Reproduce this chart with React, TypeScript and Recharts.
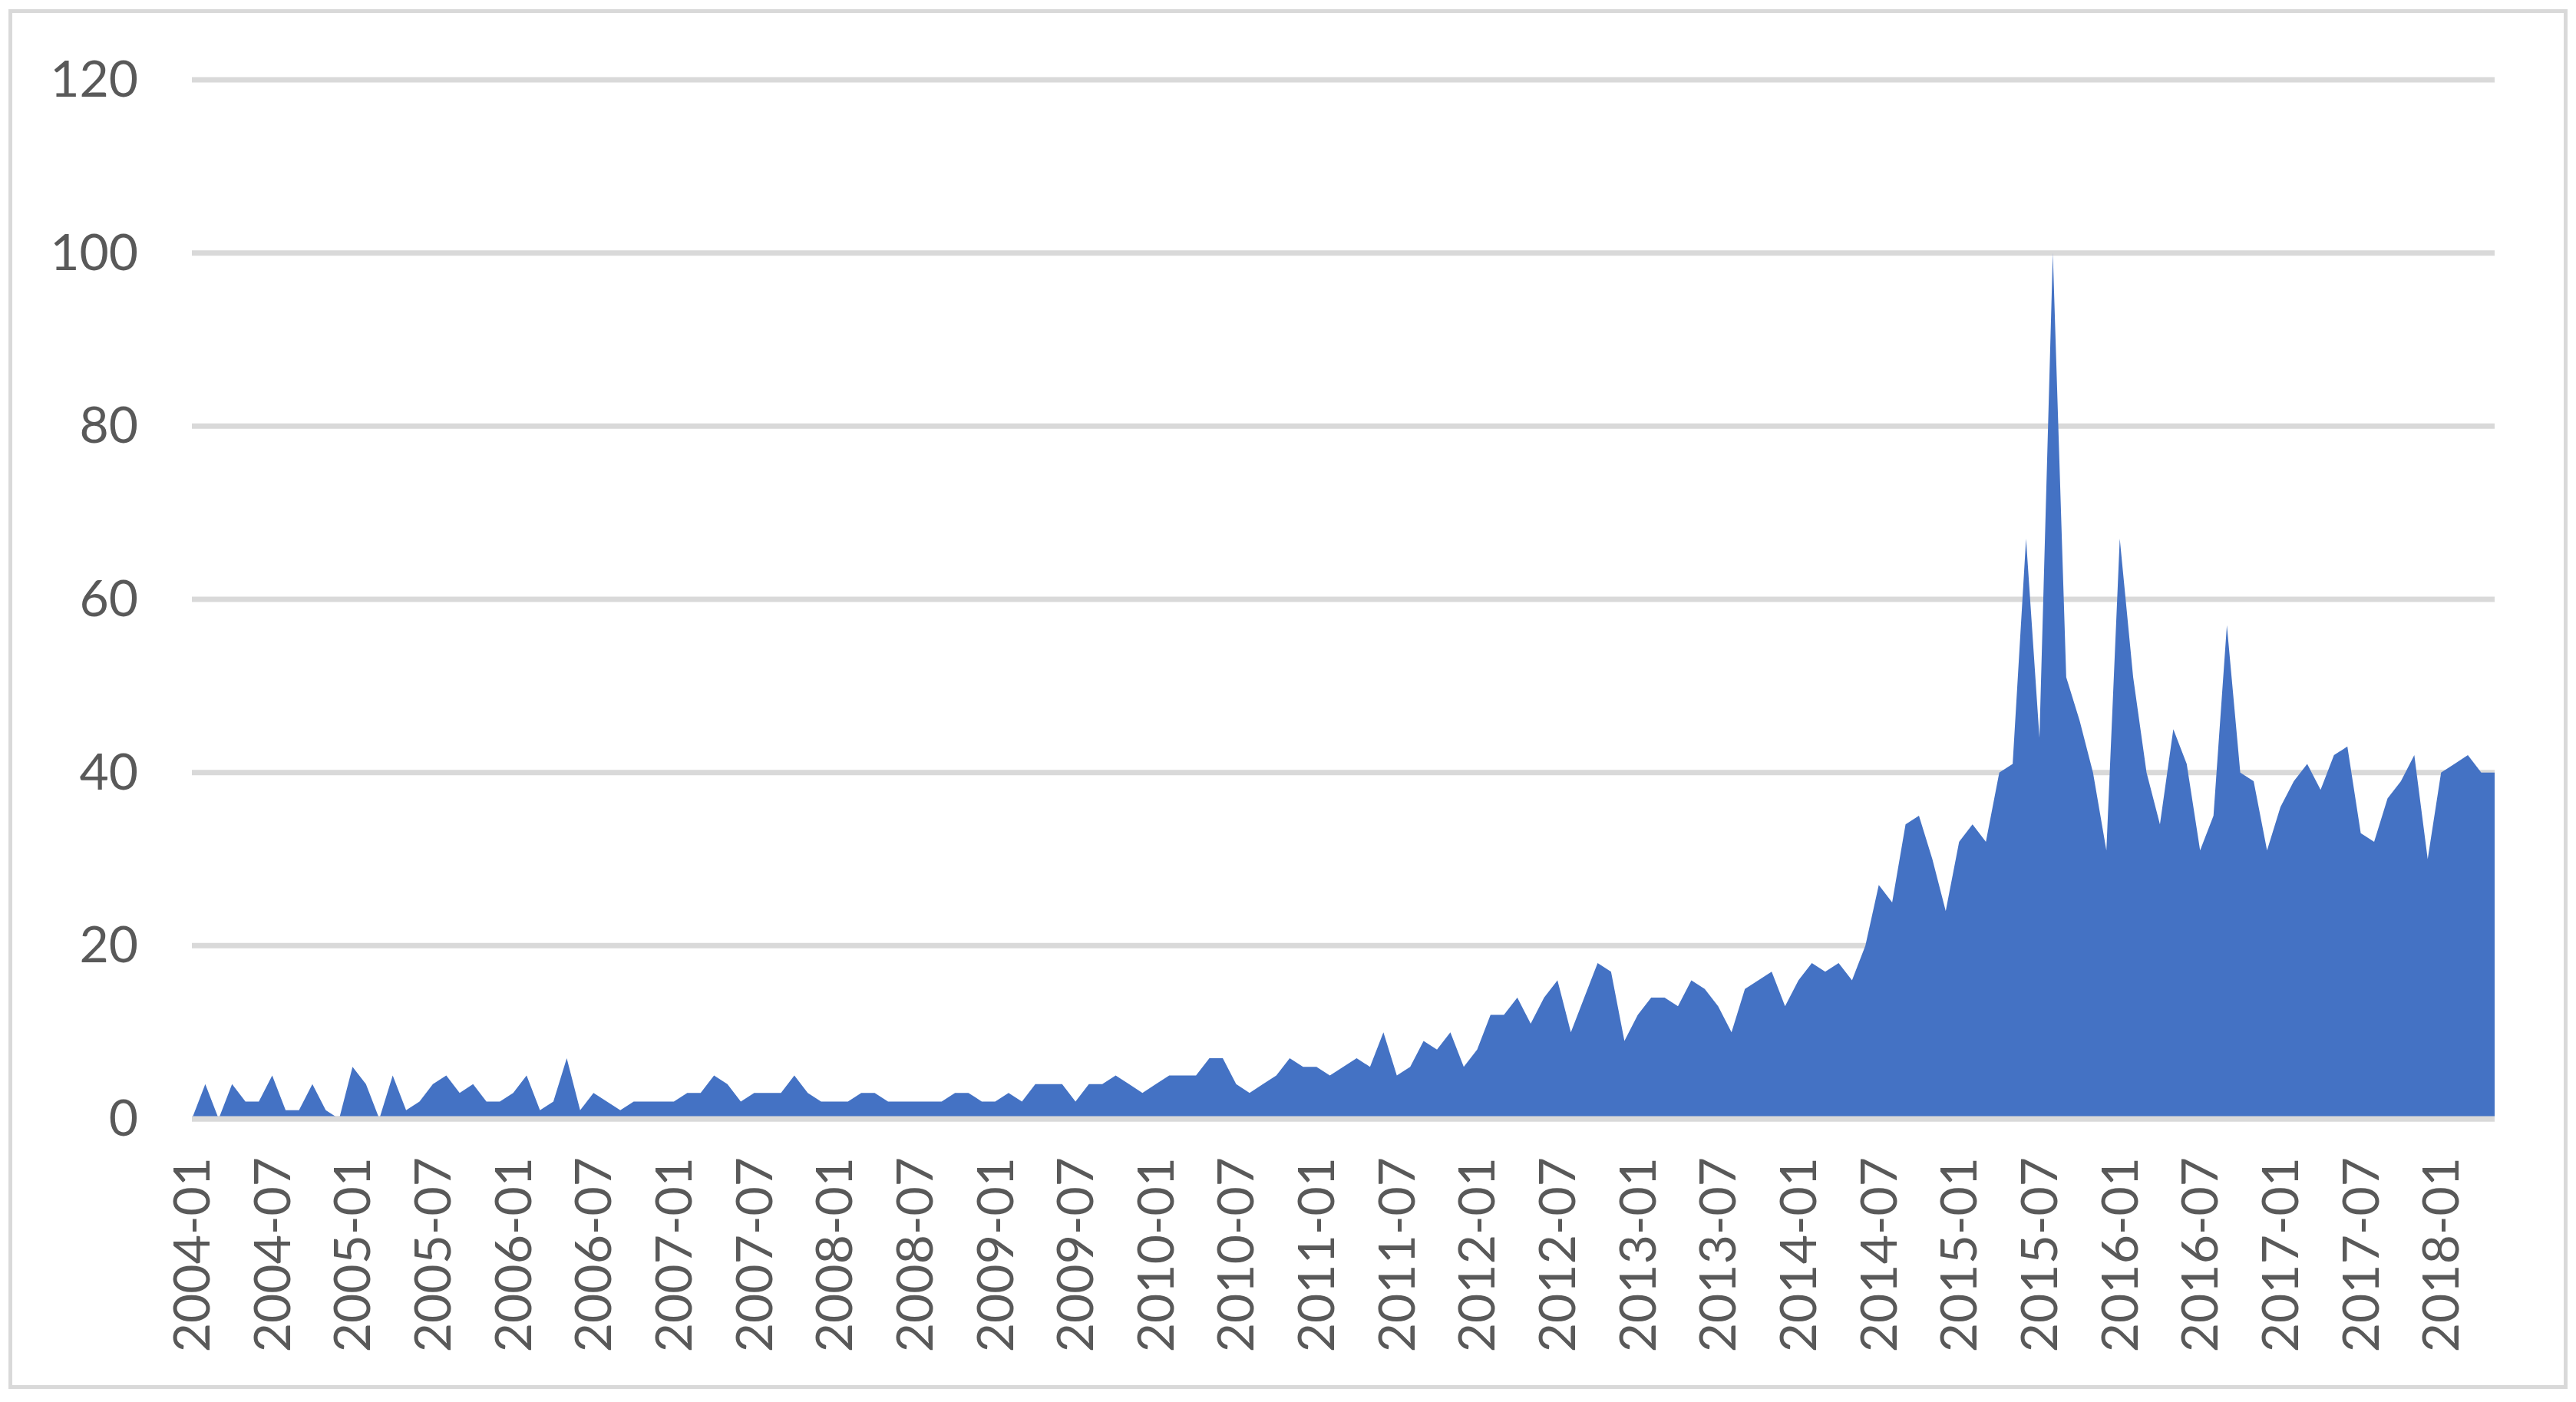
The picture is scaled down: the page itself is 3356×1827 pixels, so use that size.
import React from "react";
import { AreaChart, Area, XAxis, YAxis, CartesianGrid } from "recharts";

// Monthly categories 2004-01 .. 2018-05
const startYear = 2004;
const monthCount = 173;
const months: string[] = [];
for (let i = 0; i < monthCount; i++) {
  const y = startYear + Math.floor(i / 12);
  const m = (i % 12) + 1;
  months.push(`${y}-${m < 10 ? "0" + m : m}`);
}

// Series values, one row per year
const v2004 = [0, 4, 0, 4, 2, 2, 5, 1, 1, 4, 1, 0];
const v2005 = [6, 4, 0, 5, 1, 2, 4, 5, 3, 4, 2, 2];
const v2006 = [3, 5, 1, 2, 7, 1, 3, 2, 1, 2, 2, 2];
const v2007 = [2, 3, 3, 5, 4, 2, 3, 3, 3, 5, 3, 2];
const v2008 = [2, 2, 3, 3, 2, 2, 2, 2, 2, 3, 3, 2];
const v2009 = [2, 3, 2, 4, 4, 4, 2, 4, 4, 5, 4, 3];
const v2010 = [4, 5, 5, 5, 7, 7, 4, 3, 4, 5, 7, 6];
const v2011 = [6, 5, 6, 7, 6, 10, 5, 6, 9, 8, 10, 6];
const v2012 = [8, 12, 12, 14, 11, 14, 16, 10, 14, 18, 17, 9];
const v2013 = [12, 14, 14, 13, 16, 15, 13, 10, 15, 16, 17, 13];
const v2014 = [16, 18, 17, 18, 16, 20, 27, 25, 34, 35, 30, 24];
const v2015 = [32, 34, 32, 40, 41, 67, 44, 100, 51, 46, 40, 31];
const v2016 = [67, 51, 40, 34, 45, 41, 31, 35, 57, 40, 39, 31];
const v2017 = [36, 39, 41, 38, 42, 43, 33, 32, 37, 39, 42, 30];
const v2018 = [40, 41, 42, 40, 40];

const values = [
  ...v2004, ...v2005, ...v2006, ...v2007, ...v2008, ...v2009, ...v2010,
  ...v2011, ...v2012, ...v2013, ...v2014, ...v2015, ...v2016, ...v2017, ...v2018,
];

const yTicks = [0, 20, 40, 60, 80, 100, 120];

const data = months.map((m, i) => ({ month: m, value: values[i] }));

const FONT = "Lato, Carlito, Calibri, 'Open Sans', sans-serif";
const TEXT = "#595959";
const GRID = "#d9d9d9";

const XTick = (props: any) => {
  const { x, y, payload } = props;
  return (
    <text
      transform={`translate(${x + 23},${y + 50}) rotate(-90)`}
      textAnchor="end"
      fill={TEXT}
      fontSize={66}
      fontFamily={FONT}
    >
      {payload.value}
    </text>
  );
};

const YTick = (props: any) => {
  const { x, y, payload } = props;
  return (
    <text
      x={x - 70}
      y={y + 22}
      textAnchor="end"
      fill={TEXT}
      fontSize={66}
      fontFamily={FONT}
    >
      {payload.value}
    </text>
  );
};

export default function App() {
  return (
    <div
      style={{
        position: "absolute",
        left: 0,
        top: 0,
        width: 3356,
        height: 1827,
        background: "#ffffff",
      }}
    >
      <AreaChart
        width={3356}
        height={1827}
        data={data}
        margin={{ top: 104, right: 106, bottom: 69, left: 0 }}
      >
        <CartesianGrid
          vertical={false}
          stroke={GRID}
          strokeWidth={7}
        />
        <Area
          type="linear"
          dataKey="value"
          fill="#4472C4"
          fillOpacity={1}
          stroke="none"
          isAnimationActive={false}
          dot={false}
          activeDot={false}
        />
        <XAxis
          dataKey="month"
          height={300}
          interval={5}
          tickLine={false}
          tickSize={0}
          tickMargin={0}
          axisLine={{ stroke: GRID, strokeWidth: 7 }}
          tick={<XTick />}
        />
        <YAxis
          width={250}
          domain={[0, 120]}
          ticks={yTicks}
          axisLine={false}
          tickLine={false}
          tickSize={0}
          tickMargin={0}
          tick={<YTick />}
        />
      </AreaChart>
      <div
        style={{
          position: "absolute",
          left: 11,
          top: 12,
          width: 3334,
          height: 1798,
          border: `5px solid ${GRID}`,
          boxSizing: "border-box",
          pointerEvents: "none",
        }}
      />
    </div>
  );
}
